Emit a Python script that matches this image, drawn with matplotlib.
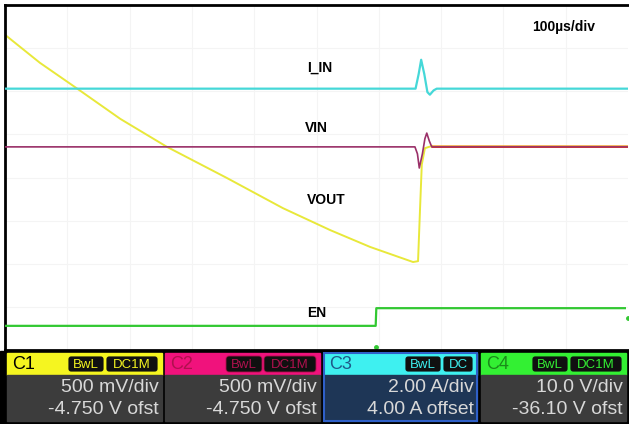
import matplotlib.pyplot as plt
from matplotlib.patches import Rectangle, FancyBboxPatch

# trace data, in screen divisions (x: 0-10, y: 0-8)
iin_t = [0.0, 6.59, 6.64, 6.68, 6.73, 6.78, 6.82, 6.88, 6.93, 10.0]
iin_v = [6.06, 6.06, 6.40, 6.73, 6.40, 5.98, 5.92, 6.02, 6.06, 6.06]

vin_t = [0.0, 6.58, 6.62, 6.65, 6.70, 6.74, 6.77, 6.81, 6.85, 10.0]
vin_v = [4.71, 4.71, 4.55, 4.22, 4.55, 4.90, 5.03, 4.85, 4.71, 4.71]

vout_t = [0.0, 0.56, 1.16, 1.85, 2.60, 3.56, 4.46, 5.22, 5.86, 6.55, 6.63, 6.66, 6.69, 6.74, 6.85, 10.0]
vout_v = [7.31, 6.66, 6.06, 5.36, 4.71, 3.99, 3.29, 2.78, 2.39, 2.04, 2.06, 3.20, 4.30, 4.68, 4.73, 4.73]

en_t = [0.0, 5.95, 5.96, 9.95]
en_v = [0.56, 0.56, 0.97, 0.97]

trace_labels = ["I_IN", "VIN", "VOUT", "EN"]
label_pos = [(5.05, 6.55), (5.00, 5.15), (5.15, 3.48), (5.00, 0.85)]
timebase = "100\u00b5s/div"

channels = ["C1", "C2", "C3", "C4"]
couplings = [("BwL", "DC1M"), ("BwL", "DC1M"), ("BwL", "DC"), ("BwL", "DC1M")]
scales = ["500 mV/div", "500 mV/div", "2.00 A/div", "10.0 V/div"]
offsets = ["-4.750 V ofst", "-4.750 V ofst", "4.00 A offset", "-36.10 V ofst"]

plt.rcParams['font.family'] = ['Liberation Sans', 'DejaVu Sans']

fig = plt.figure(figsize=(6.29, 4.24), dpi=100)
W, H = 629, 424

# main scope screen
ax = fig.add_axes([5 / W, (H - 350) / H, 623 / W, 345 / H])
ax.set_xlim(0, 10)
ax.set_ylim(0, 8)
for x in range(1, 10):
    ax.axvline(x, color='#f4f4f4', lw=0.8, zorder=0)
for y in range(1, 8):
    ax.axhline(y, color='#f4f4f4', lw=0.8, zorder=0)
ax.set_xticks([])
ax.set_yticks([])
for s in ax.spines.values():
    s.set_color('black')
    s.set_linewidth(2)
ax.spines['right'].set_visible(False)

ax.plot(iin_t, iin_v, color='#45d8d8', lw=1.6, zorder=3)
ax.plot(vin_t, vin_v, color='#9a3068', lw=1.2, zorder=4)
ax.plot(vout_t[:-1], vout_v[:-1], color='#e8e83a', lw=1.4, zorder=2)
# VOUT sits on VIN after the edge -> orange overlap
ax.plot(vout_t[-2:], vout_v[-2:], color='#f0a030', lw=1.8, zorder=3)
ax.plot(vin_t[-2:], vin_v[-2:], color='#c03040', lw=0.6, zorder=5)
ax.plot(en_t, en_v, color='#32c832', lw=1.6, zorder=3)
ax.plot([10.0], [0.74], marker='o', ms=2.5, color='#32c832', clip_on=False)
ax.plot([5.95], [0.07], marker='o', ms=2.5, color='#32c832')

for lab, (x, y) in zip(trace_labels, label_pos):
    ax.text(x, y, lab, fontsize=10, fontweight='bold', ha='center', va='center')
ax.text(8.97, 7.50, timebase, fontsize=10, fontweight='bold', ha='center', va='center')

# channel info bar
bar = fig.add_axes([0, 0, 1, 1], zorder=-1)
bar.set_xlim(0, W)
bar.set_ylim(H, 0)
bar.axis('off')
bar.add_patch(Rectangle((0, 351), W, H - 351, color='black'))

head_cols = ['#f5f520', '#f0127c', '#3ef0f0', '#33f033']
tag_txt = ['#f5f520', '#b0104e', '#3ef0f0', '#33f033']
head_txt = ['black', '#b0104e', '#1e5a8a', '#1a8a1a']
body_cols = ['#3c3c3c', '#3c3c3c', '#1e3656', '#3c3c3c']
box_x = [7, 165, 324, 481]
box_w = [155, 155, 153, 145]

for i in range(4):
    x0, w = box_x[i], box_w[i]
    bar.add_patch(Rectangle((x0, 353), w, 22, color=head_cols[i]))
    bar.add_patch(Rectangle((x0, 375), w, 46, color=body_cols[i]))
    if i == 2:
        bar.add_patch(Rectangle((x0, 353), w, 68, fill=False, ec='#2f60c8', lw=1.5))
    bar.text(x0 + 5, 364.5, channels[i], fontsize=13, color=head_txt[i], ha='left', va='center')
    t1, t2 = couplings[i]
    w2 = 52 if t2 == "DC1M" else 30
    r = x0 + w - 4
    bar.add_patch(FancyBboxPatch((r - w2, 356), w2, 16, boxstyle='round,pad=0,rounding_size=3',
                                 fc='#101010', ec=tag_txt[i], lw=0.6))
    bar.add_patch(FancyBboxPatch((r - w2 - 38, 356), 36, 16, boxstyle='round,pad=0,rounding_size=3',
                                 fc='#101010', ec=tag_txt[i], lw=0.6))
    bar.text(r - w2 / 2, 364.5, t2, fontsize=9.5, color=tag_txt[i], ha='center', va='center')
    bar.text(r - w2 - 20, 364.5, t1, fontsize=9.5, color=tag_txt[i], ha='center', va='center')
    bar.text(x0 + w - 3, 388, scales[i], fontsize=14, color='#d8d8d8', ha='right', va='center')
    bar.text(x0 + w - 3, 410, offsets[i], fontsize=14, color='#d8d8d8', ha='right', va='center')

fig.savefig('out.png', dpi=100)
